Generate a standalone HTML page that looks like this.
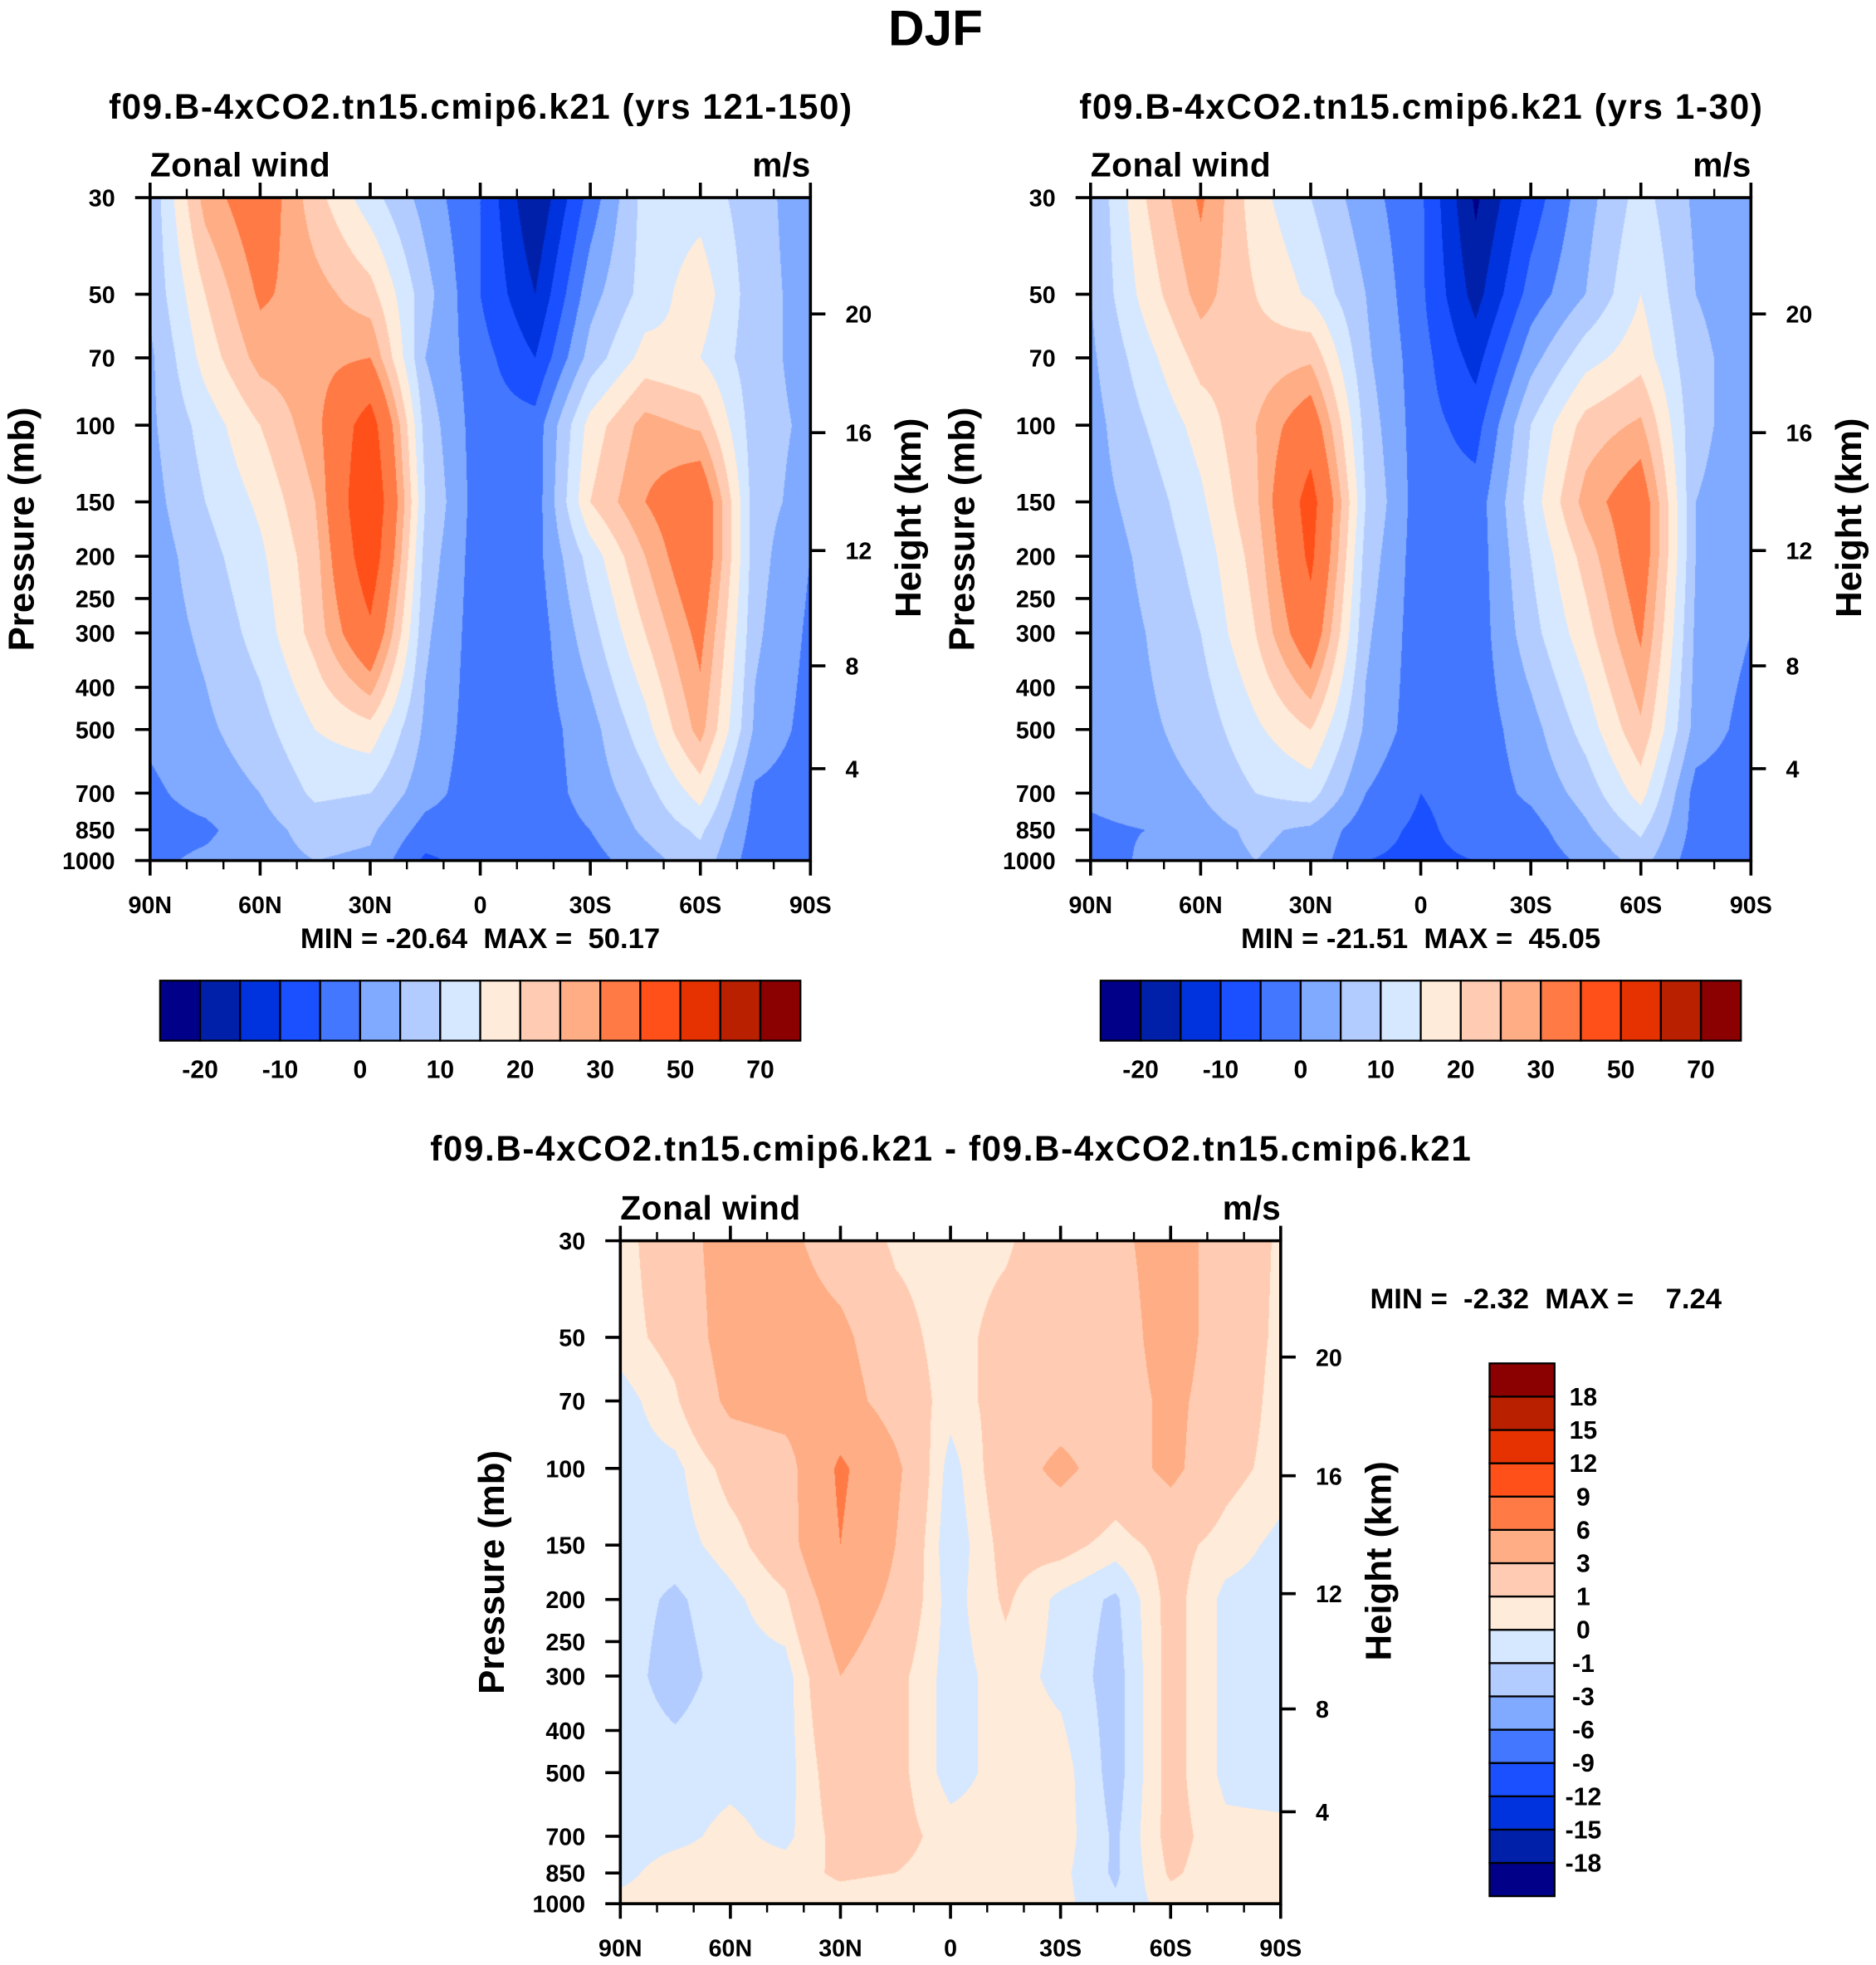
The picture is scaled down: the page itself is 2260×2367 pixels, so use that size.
<!DOCTYPE html>
<html><head><meta charset="utf-8">
<style>
html,body{margin:0;padding:0;background:#fff;}
#wrap{position:relative;width:2260px;height:2367px;overflow:hidden;background:#fff;}
canvas{position:absolute;}
svg{position:absolute;left:0;top:0;}
text{font-family:"Liberation Sans",Arial,sans-serif;font-weight:bold;fill:#000;white-space:pre;}
</style></head>
<body>
<div id="wrap">
<canvas id="c1"></canvas>
<canvas id="c2"></canvas>
<canvas id="c3"></canvas>
<svg id="svg" width="2260" height="2367" viewBox="0 0 1500 1571" xml:space="preserve"></svg>
</div>
<script>
// ---- data ----
const lats = [90,75,60,45,30,15,0,-15,-30,-45,-60,-75,-90];
const plevs = [30,50,70,100,150,200,300,500,700,850,1000];
const pTickLabels = [30,50,70,100,150,200,250,300,400,500,700,850,1000];
const latTicks = [90,60,30,0,-30,-60,-90];
const latTickLabels = ["90N","60N","30N","0","30S","60S","90S"];
const heightTicks = [20,16,12,8,4];
const heightTickP = [55.5,104,194,357,615];
const levels1 = [-20,-15,-10,-5,0,5,10,15,20,25,30,40,50,60,70];
const cbLabels1 = ["-20","-10","0","10","20","30","50","70"];
const levels3 = [-18,-15,-12,-9,-6,-3,-1,0,1,3,6,9,12,15,18];
const cbLabels3 = ["-18","-15","-12","-9","-6","-3","-1","0","1","3","6","9","12","15","18"];
const colors = ["#000088","#0020aa","#0033dd","#1a50ff","#4477ff","#80aaff","#b3ccff","#d6e8ff","#ffebd9","#ffccb3","#ffad85","#ff7a45","#ff5019","#e63200","#b82000","#8b0000"];
// panel 1 field (rows = plevs, cols = lats)
const field1 = [
[6,27,35,22,12,3,-5,-20,-3,12,13,7,2],
[6,20,31,27,22,7,-5,-15,3,12,18,7,3],
[4,17,27,28,30,5,-3,-10,7,17,15,7,3],
[4,12,20,28,45,8,-3,-3,17,27,24,7,4],
[3,10,16,25,50,10,-3,-3,20,30,37,7,3],
[2,8,14,23,47,8,-3,-2,12,25,37,7,0],
[2,6,12,22,38,6,-3,-3,8,20,32,6,-1],
[1,4,8,15,18,4,-3,-3,3,13,27,4,-2],
[-1,2,5,11,10,2,-3,-3,2,8,17,-1,-3],
[-2,-1,3,7,6,-2,-3,-3,0,6,11,-2,-3],
[-1,1,3,5,4,-6,-3,-4,-2,3,8,-3,-3]];
const field2 = [
[5,20,31,17,10,2,-4,-21,-8,3,12,4,3],
[5,17,27,20,14,5,-4,-17,-3,5,15,5,3],
[4,13,22,22,24,6,-3,-12,3,13,18,6,3],
[3,10,17,25,35,8,-3,-7,10,22,26,6,3],
[3,7,14,24,44,10,-3,-3,12,27,35,5,3],
[2,6,12,22,42,8,-3,-3,10,22,35,5,2],
[2,5,10,20,36,6,-3,-3,8,18,31,4,0],
[1,4,7,14,20,4,-3,-3,3,12,24,3,-2],
[1,3,5,10,12,0,-5,-3,1,7,17,-2,-3],
[-1,0,3,6,4,-3,-6,-3,-2,4,11,-2,-3],
[-3,1,3,5,3,-5,-6,-5,-3,1,7,-3,-3]];
const field3 = [
[0.5,2,4,3.5,2,0.8,0.5,0.8,2,2.5,4,2,0.8],
[0.5,1.5,4,4,3.5,1.5,0.5,1.5,2,2,4,2,0.7],
[-0.5,0.8,3.5,4,4,2,0.5,1.5,2,2,3.5,2,0.5],
[-0.5,-0.3,1.5,2,6.5,3.5,-0.5,2,3.5,2,3.5,1.5,0.5],
[-0.5,-0.5,0.5,2,6,3,-0.8,1.5,1.5,0.5,1.5,0.5,-0.3],
[-0.5,-1.2,-0.3,0.8,4.5,2.5,-0.5,1.2,-0.3,-1.2,1.5,-0.3,-0.5],
[-0.5,-1.5,-0.5,-0.5,3,1.5,-0.5,0.5,-0.3,-1.5,1.5,-0.3,-0.5],
[-0.5,-0.5,-0.3,-0.5,2,1.5,-0.5,0.5,0.5,-1.5,1.5,-0.3,-0.5],
[-0.5,-0.3,0.3,-0.3,1.5,1.5,0.5,0.5,0.5,-1.2,1.5,0.3,0.3],
[-0.3,0.5,0.5,0.5,1.2,1,0.5,0.5,0.3,-1.2,1.2,0.3,0.3],
[0.3,0.5,0.5,0.5,0.5,0.3,0.3,0.3,0.3,-0.8,0.5,0.3,0.3]];

// ---- layout ----
const S = 2260/1500;
const panels = [
 {x0:120,x1:648,y0:158,y1:688,field:field1,levels:levels1,canvas:"c1",title:"f09.B-4xCO2.tn15.cmip6.k21 (yrs 121-150)",tx:384,ty:95,tw:594,mm:"MIN = -20.64  MAX =  50.17",mmx:384,mmy:758},
 {x0:872,x1:1400,y0:158,y1:688,field:field2,levels:levels1,canvas:"c2",title:"f09.B-4xCO2.tn15.cmip6.k21 (yrs 1-30)",tx:1136,ty:95,tw:546,mm:"MIN = -21.51  MAX =  45.05",mmx:1136,mmy:758},
 {x0:496,x1:1024,y0:992,y1:1522,field:field3,levels:levels3,canvas:"c3",title:"f09.B-4xCO2.tn15.cmip6.k21 - f09.B-4xCO2.tn15.cmip6.k21",tx:760,ty:928,tw:832,mm:"MIN =  -2.32  MAX =    7.24",mmx:1236,mmy:1046}
];
const svg = document.getElementById('svg');
const NS = "http://www.w3.org/2000/svg";
function mk(tag, attrs, parent){const e=document.createElementNS(NS,tag);for(const k in attrs)e.setAttribute(k,attrs[k]);(parent||svg).appendChild(e);return e;}
function txt(s,x,y,size,anchor,parent){const t=mk('text',{x:x,y:y,'font-size':size,'text-anchor':anchor||'middle'},parent);t.textContent=s;return t;}

function levelIndex(v, lv){let i=0;while(i<lv.length&&v>=lv[i])i++;return i;}
function hex(c){return [parseInt(c.slice(1,3),16),parseInt(c.slice(3,5),16),parseInt(c.slice(5,7),16)];}
const rgb = colors.map(hex);

panels.forEach((P,pi)=>{
  const yP = p => P.y0 + (P.y1-P.y0)*Math.log10(p/30)/Math.log10(1000/30);
  const xL = lat => P.x0 + (90-lat)/180*(P.x1-P.x0);
  const cv = document.getElementById(P.canvas);
  const L = Math.round(P.x0*S), T=Math.round(P.y0*S);
  const W = Math.round(P.x1*S)-L, H = Math.round(P.y1*S)-T;
  cv.width=W;cv.height=H;cv.style.left=L+'px';cv.style.top=T+'px';
  const ctx=cv.getContext('2d');const img=ctx.createImageData(W,H);
  const lg = plevs.map(p=>Math.log10(p));
  for(let j=0;j<H;j++){
    const fy=(j+0.5)/H; const lp=Math.log10(30)+fy*Math.log10(1000/30);
    let k=0; while(k<plevs.length-2 && lp>lg[k+1])k++;
    const ty=Math.min(1,Math.max(0,(lp-lg[k])/(lg[k+1]-lg[k])));
    for(let i=0;i<W;i++){
      const lat=90-(i+0.5)/W*180;
      let m=Math.min(lats.length-2,Math.floor((90-lat)/15));
      const tx=((90-lat)-m*15)/15;
      const f=P.field;
      const v=(1-ty)*((1-tx)*f[k][m]+tx*f[k][m+1])+ty*((1-tx)*f[k+1][m]+tx*f[k+1][m+1]);
      const c=rgb[levelIndex(v,P.levels)];
      const o=(j*W+i)*4;img.data[o]=c[0];img.data[o+1]=c[1];img.data[o+2]=c[2];img.data[o+3]=255;
    }
  }
  ctx.putImageData(img,0,0);
  const g = mk('g',{});
  
  
  const fr=mk('rect',{x:P.x0,y:P.y0,width:P.x1-P.x0,height:P.y1-P.y0,fill:'none',stroke:'#000','stroke-width':2.4},g);
  
  
  for(let lat=90;lat>=-90;lat-=10){
    const x=xL(lat); const major=(lat%30===0);
    const len=major?12:7;
    mk('line',{x1:x,y1:P.y0,x2:x,y2:P.y0-len,stroke:'#000','stroke-width':major?2.4:1.6},g);
    mk('line',{x1:x,y1:P.y1,x2:x,y2:P.y1+len,stroke:'#000','stroke-width':major?2.4:1.6},g);
  }
  latTicks.forEach((lat,i)=>{
    const t=txt(latTickLabels[i],xL(lat),P.y1+42,19,'middle',g);
    
    
  });
  pTickLabels.forEach(p=>{
    const y=yP(p);
    mk('line',{x1:P.x0,y1:y,x2:P.x0-12,y2:y,stroke:'#000','stroke-width':2.4},g);
    const t=txt(String(p),P.x0-28,y+7,19,'end',g);
    
    
  });
  heightTicks.forEach((h,i)=>{
    const y=yP(heightTickP[i]);
    mk('line',{x1:P.x1,y1:y,x2:P.x1+12,y2:y,stroke:'#000','stroke-width':2.4},g);
    const t=txt(String(h),P.x1+28,y+7,19,'start',g);
    
    
  });
  const yc=(P.y0+P.y1)/2;
  const pt=txt('Pressure (mb)',0,0,29,'middle',g);
  pt.setAttribute('transform','translate('+(P.x0-93)+','+yc+') rotate(-90)');
  
  
  const ht=txt('Height (km)',0,0,29,'middle',g);
  ht.setAttribute('transform','translate('+(P.x1+88)+','+(yc-9)+') rotate(-90)');
  
  
  const zw=txt('Zonal wind',P.x0,P.y0-17,27,'start',g);
  zw.setAttribute('textLength','144');
  
  
  const un=txt('m/s',P.x1,P.y0-17,27,'end',g);
  
  
  const ti=txt(P.title,P.tx,P.ty,28,'middle',g);
  ti.setAttribute('textLength',P.tw);
  
  
  const mm=txt(P.mm,P.mmx,P.mmy,23,'middle',g);
  
  
});

[128,880].forEach((cx0,bi)=>{
  const g=mk('g',{});
  
  
  const w=32;
  colors.forEach((c,i)=>{
    const r=mk('rect',{x:cx0+i*w,y:784,width:w,height:48,fill:c,stroke:'#000','stroke-width':1.5},g);
    
    
  });
  cbLabels1.forEach((s,i)=>{
    const t=txt(s,cx0+w*(1+2*i),862,20,'middle',g);
    
    
  });
});
(function(){
  const g=mk('g',{});
  
  
  const y0=1090,y1=1516,h=(y1-y0)/16;
  colors.forEach((c,i)=>{
    const r=mk('rect',{x:1191,y:y1-(i+1)*h,width:52,height:h,fill:c,stroke:'#000','stroke-width':1.5},g);
    
    
  });
  cbLabels3.forEach((s,i)=>{
    const t=txt(s,1266,y1-(i+1)*h+7,20,'middle',g);
    
    
  });
})();
const main=txt('DJF',748,36,40,'middle');


</script>
</body></html>
